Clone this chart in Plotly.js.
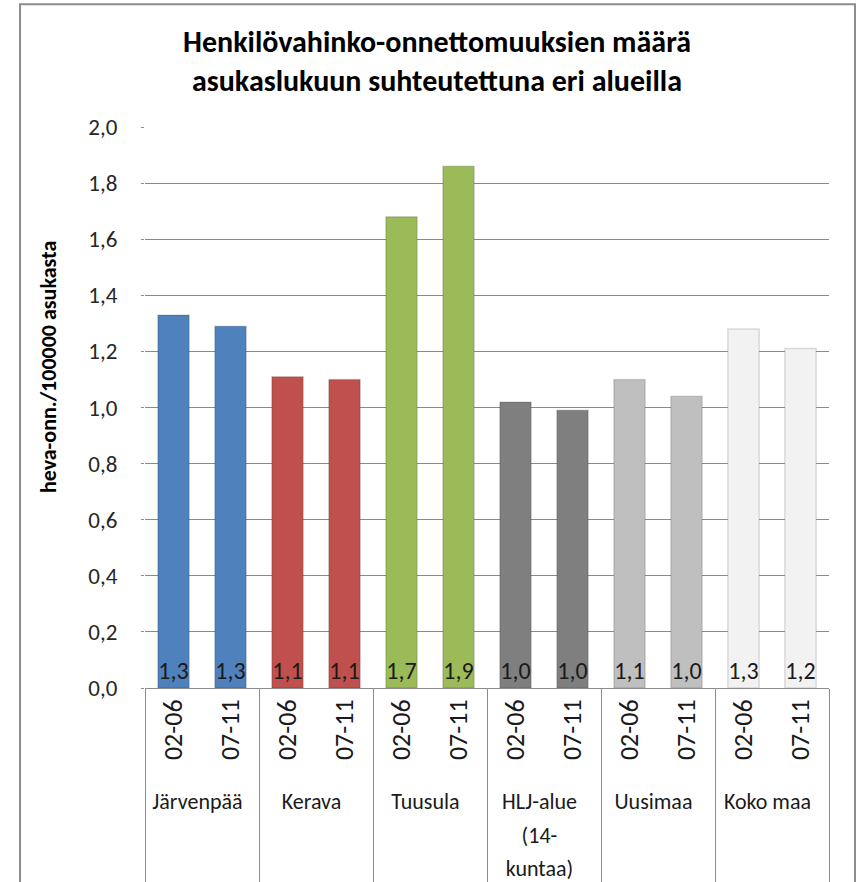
<!DOCTYPE html>
<html>
<head>
<meta charset="utf-8">
<script src="https://cdn.plot.ly/plotly-3.0.1.min.js"></script>
<style>
  html, body { margin: 0; padding: 0; background: #fff; }
  #chart { width: 856px; height: 882px; }
</style>
</head>
<body>
<div id="chart"></div>
<script>
// Henkilövahinko-onnettomuudet / 100000 asukasta
const titleLines = ['Henkilövahinko-onnettomuuksien määrä', 'asukaslukuun suhteutettuna eri alueilla'];
const regions = ['Järvenpää', 'Kerava', 'Tuusula', 'HLJ-alue<br>(14-<br>kuntaa)', 'Uusimaa', 'Koko maa'];
const periods = ['02-06', '07-11'];
const rates = [1.33, 1.29, 1.11, 1.10, 1.68, 1.86, 1.02, 0.99, 1.10, 1.04, 1.28, 1.21];
const regionColors = ['#4F81BD', '#C0504D', '#9BBB59', '#7F7F7F', '#BFBFBF', '#F2F2F2'];
const yTicks = [0, 0.2, 0.4, 0.6, 0.8, 1.0, 1.2, 1.4, 1.6, 1.8, 2.0];

const FONT = 'Carlito, Lato, "Liberation Sans", sans-serif';

// build multicategory x from regions x periods
const xOuter = [], xInner = [], barColors = [];
regions.forEach((r, i) => {
    periods.forEach(p => {
        xOuter.push('<span style="font-size:22px">' + r + '</span>');
        xInner.push(p);
        barColors.push(regionColors[i]);
    });
});

const trace = {
    type: 'bar',
    x: [xOuter, xInner],
    y: rates,
    marker: {
        color: barColors,
        line: { color: 'rgba(0,0,0,0.13)', width: 1.5 }
    },
    texttemplate: '%{y:.1f}',
    textposition: 'inside',
    insidetextanchor: 'start',
    textangle: 0,
    constraintext: 'none',
    textfont: { family: FONT, size: 24, color: '#1a1a1a' },
    hoverinfo: 'skip'
};

const annotations = [{
    text: '<b>' + titleLines.join('<br>') + '</b>',
    xref: 'paper', yref: 'paper',
    x: 0.427, y: 1.1168,
    xanchor: 'center', yanchor: 'middle',
    showarrow: false,
    font: { family: FONT, size: 30, color: '#000' }
}, {
    text: '<b>heva-onn./100000 asukasta</b>',
    xref: 'paper', yref: 'paper',
    x: -0.1418, y: 0.572,
    xanchor: 'center', yanchor: 'middle',
    textangle: -90,
    showarrow: false,
    font: { family: FONT, size: 22, color: '#000' }
}];

const layout = {
    width: 856,
    height: 882,
    margin: { l: 145, r: 27, t: 127, b: 194 },
    paper_bgcolor: '#ffffff',
    plot_bgcolor: '#ffffff',
    separators: ', ',
    showlegend: false,
    bargap: 0.45,
    font: { family: FONT, size: 18, color: '#262626' },
    xaxis: {
        type: 'multicategory',
        tickangle: -90,
        showline: true,
        linecolor: '#8c8c8c',
        linewidth: 1,
        ticks: '',
        showdividers: true,
        dividercolor: '#8c8c8c',
        dividerwidth: 1,
        tickfont: { family: FONT, size: 26, color: '#1a1a1a' }
    },
    yaxis: {
        range: [0, 2.0],
        tickvals: yTicks,
        tickformat: '.1f',
        showgrid: true,
        gridcolor: '#8a8a8a',
        gridwidth: 1,
        zeroline: false,
        showline: false,
        ticks: 'outside',
        ticklen: 3,
        tickcolor: '#8a8a8a',
        ticklabelstandoff: 19,
        tickfont: { family: FONT, size: 23, color: '#262626' }
    },
    annotations: annotations,
    shapes: [{
        type: 'rect',
        xref: 'paper', yref: 'paper',
        x0: -0.1827, x1: 1.038, y0: -0.5, y1: 1.219,
        line: { color: '#8c8c8c', width: 2 }
    }]
};

Plotly.newPlot('chart', [trace], layout, { displayModeBar: false, staticPlot: true });
</script>
</body>
</html>
